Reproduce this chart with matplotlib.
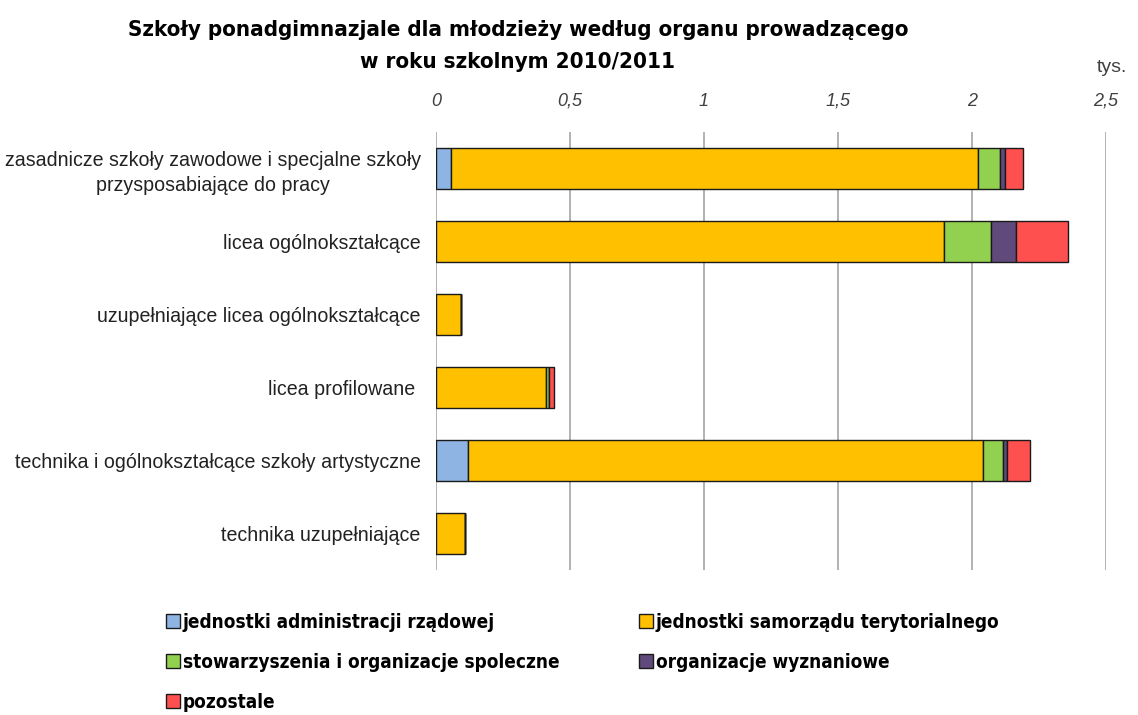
import matplotlib.pyplot as plt
import numpy as np

# dane (tys.)
kategorie = ["zasadnicze szkoły zawodowe i specjalne szkoły\nprzysposabiające do pracy",
             "licea ogólnokształcące",
             "uzupełniające licea ogólnokształcące",
             "licea profilowane ",
             "technika i ogólnokształcące szkoły artystyczne",
             "technika uzupełniające"]
rzadowe = [0.057, 0, 0, 0, 0.121, 0]
samorzad = [1.966, 1.894, 0.093, 0.409, 1.921, 0.108]
stowarzyszenia = [0.083, 0.176, 0, 0.013, 0.074, 0]
wyznaniowe = [0.018, 0.093, 0, 0, 0.014, 0]
pozostale = [0.066, 0.194, 0, 0.019, 0.088, 0]

serie = [rzadowe, samorzad, stowarzyszenia, wyznaniowe, pozostale]
nazwy = ["jednostki administracji rządowej", "jednostki samorządu terytorialnego",
         "stowarzyszenia i organizacje spoleczne", "organizacje wyznaniowe", "pozostale"]
kolory = ["#8EB4E3", "#FFC000", "#92D050", "#604A7B", "#FF5050"]
ticki = [0, 0.5, 1, 1.5, 2, 2.5]
tick_lab = ["0", "0,5", "1", "1,5", "2", "2,5"]

fig = plt.figure(figsize=(11.38, 7.15), dpi=100)
ax = fig.add_axes([436/1138, 1-570/715, 670/1138, 438/715])

y = np.arange(len(kategorie))
lewo = np.zeros(len(kategorie))
slupki = []
for s, n, k in zip(serie, nazwy, kolory):
    s = np.array(s)
    b = ax.barh(y, s, left=lewo, height=0.56, color=k, edgecolor="#1a1a1a", linewidth=1, label=n, zorder=3)
    slupki.append(b)
    lewo = lewo + s

ax.set_xlim(0, 2.5)
ax.set_ylim(len(kategorie)-0.5, -0.5)
ax.set_xticks(ticki)
ax.set_xticklabels(tick_lab, fontstyle="italic", fontsize=13, color="#404040", family="Liberation Sans")
ax.xaxis.tick_top()
ax.tick_params(axis="x", length=0, pad=16)
ax.tick_params(axis="y", length=0, pad=11)
ax.set_yticks(y)
ax.set_yticklabels(kategorie, fontsize=14.1, family="Liberation Sans", color="#222222", linespacing=1.35)
for t in ax.get_yticklabels():
    t.set_horizontalalignment("right")
    t.set_multialignment("center")
ax.grid(axis="x", color="#a6a6a6", linewidth=1.2, zorder=0)
for sp in ax.spines.values():
    sp.set_visible(False)

tyt = dict(ha="center", va="center", fontsize=16, fontweight="bold", family="DejaVu Sans", fontstretch="condensed")
fig.text(518/1138, 1-30/715, "Szkoły ponadgimnazjale dla młodzieży według organu prowadzącego", **tyt)
fig.text(518/1138, 1-62/715, "w roku szkolnym 2010/2011", **tyt)
fig.text(1112/1138, 1-68/715, "tys.", ha="center", va="center", fontsize=14, color="#404040",
         family="Liberation Sans")

kol = [slupki[0], slupki[2], slupki[4], slupki[1], slupki[3]]
et = [nazwy[0], nazwy[2], nazwy[4], nazwy[1], nazwy[3]]
ax.legend(kol, et, ncol=2, loc="upper left", bbox_to_anchor=(149/1138, 1-596/715),
          bbox_transform=fig.transFigure, frameon=False, handlelength=0.75, handleheight=0.75,
          handletextpad=0.15, columnspacing=4.2, labelspacing=1.1,
          prop={"family": "DejaVu Sans", "weight": "bold", "size": 13.6, "stretch": "condensed"})

fig.savefig("out.png", dpi=100)
